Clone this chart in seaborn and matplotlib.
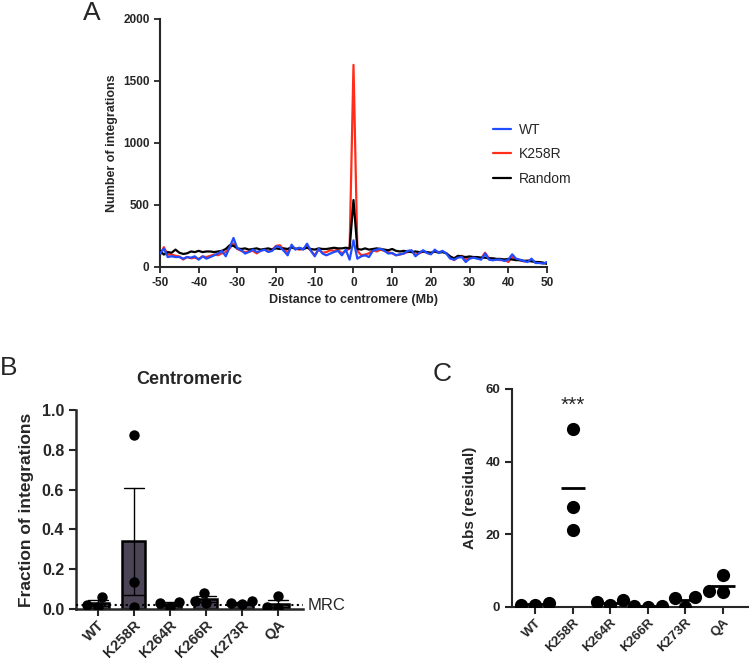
import numpy as np
import pandas as pd
import matplotlib
matplotlib.use("Agg")
import matplotlib.pyplot as plt
import seaborn as sns

sns.set_style("ticks")
plt.rcParams['font.family'] = ['Liberation Sans', 'DejaVu Sans']
plt.rcParams['axes.unicode_minus'] = False

# ---- Panel A: integrations vs distance to centromere (1 Mb bins) ----
distance = np.arange(-50, 51)

wt = [108, 148, 80, 86, 80, 80, 67, 80, 75, 86,
      59, 86, 67, 80, 94, 108, 130, 86, 160, 234,
      148, 135, 108, 121, 140, 121, 130, 140, 121, 130,
      167, 160, 130, 94, 180, 140, 156, 140, 188, 130,
      86, 148, 108, 94, 108, 121, 130, 94, 140, 59,
      215,
      67, 86, 94, 80, 130, 140, 148, 130, 108, 113,
      94, 102, 108, 130, 135, 86, 113, 135, 113, 102,
      140, 113, 130, 108, 67, 59, 75, 80, 40, 67,
      75, 67, 59, 108, 59, 54, 59, 59, 48, 59,
      102, 67, 59, 48, 40, 67, 32, 32, 27, 40]

k258r = [95, 160, 100, 100, 90, 85, 60, 80, 70, 75,
         65, 85, 80, 90, 100, 95, 110, 120, 150, 190,
         145, 130, 120, 125, 130, 110, 130, 140, 125, 140,
         170, 175, 140, 120, 160, 150, 140, 145, 165, 130,
         95, 140, 115, 120, 135, 130, 140, 110, 130, 150,
         1630,
         130, 95, 100, 110, 135, 125, 140, 130, 120, 110,
         95, 100, 110, 120, 125, 100, 110, 125, 115, 105,
         130, 120, 125, 110, 80, 55, 80, 90, 60, 70,
         80, 75, 70, 115, 70, 65, 60, 55, 60, 40,
         80, 60, 55, 45, 50, 55, 40, 35, 30, 30]

random_ctrl = [130, 100, 120, 115, 140, 115, 105, 110, 125, 120,
               130, 120, 125, 125, 120, 125, 130, 145, 175, 170,
               150, 145, 150, 140, 145, 150, 140, 145, 150, 140,
               150, 145, 150, 145, 160, 145, 150, 145, 155, 145,
               140, 150, 145, 145, 150, 155, 150, 150, 155, 150,
               540,
               145, 140, 150, 140, 145, 150, 145, 140, 135, 145,
               130, 125, 130, 125, 120, 125, 120, 125, 120, 115,
               125, 115, 120, 110, 85, 70, 90, 85, 80, 85,
               80, 80, 75, 75, 70, 70, 65, 65, 60, 65,
               60, 55, 55, 50, 50, 45, 40, 40, 35, 25]

# ---- Panels B and C: per-mutant replicates ----
mutants = ['WT', 'K258R', 'K264R', 'K266R', 'K273R', 'QA']

frac_wt = [0.060, 0.012, 0.020]
frac_k258r = [0.873, 0.135, 0.012]
frac_k264r = [0.010, 0.035, 0.030]
frac_k266r = [0.082, 0.040, 0.030]
frac_k273r = [0.025, 0.030, 0.038]
frac_qa = [0.065, 0.005, 0.012]
mrc_level = 0.02

res_wt = [0.5, 1.2, 0.5]
res_k258r = [49.0, 27.6, 21.3]
res_k264r = [0.6, 1.8, 1.3]
res_k266r = [0.0, 0.4, 0.4]
res_k273r = [0.1, 2.7, 2.6]
res_qa = [8.7, 4.3, 4.2]

frac_df = pd.DataFrame({
    'mutant': np.repeat(mutants, 3),
    'fraction': frac_wt + frac_k258r + frac_k264r + frac_k266r + frac_k273r + frac_qa,
})
res_df = pd.DataFrame({
    'mutant': np.repeat(mutants, 3),
    'residual': res_wt + res_k258r + res_k264r + res_k266r + res_k273r + res_qa,
})

fig = plt.figure(figsize=(7.49, 6.61), dpi=100)
axA = fig.add_axes([0.2136, 0.5961, 0.5167, 0.3752])
axB = fig.add_axes([0.1015, 0.0787, 0.303, 0.301])
axC = fig.add_axes([0.6836, 0.0817, 0.315, 0.33])


def rotate_xlabels(ax):
    for lab in ax.get_xticklabels():
        lab.set_fontweight('bold')
        lab.set_rotation(45)
        lab.set_ha('right')
        lab.set_rotation_mode('anchor')


# Panel A
sns.lineplot(x=distance, y=k258r, ax=axA, color='#ff2d1a', lw=1.6, label='K258R', zorder=2)
sns.lineplot(x=distance, y=random_ctrl, ax=axA, color='black', lw=1.6, label='Random', zorder=3)
sns.lineplot(x=distance, y=wt, ax=axA, color='#1f4dff', lw=1.6, label='WT', zorder=4)
axA.set_xlim(-50, 50)
axA.set_ylim(0, 2000)
axA.set_xticks(range(-50, 51, 10))
axA.set_yticks([0, 500, 1000, 1500, 2000])
axA.set_xlabel('Distance to centromere (Mb)', fontsize=9, fontweight='bold', labelpad=3)
axA.set_ylabel('Number of integrations', fontsize=9, fontweight='bold', labelpad=4)
for lab in axA.get_xticklabels() + axA.get_yticklabels():
    lab.set_fontweight('bold')
axA.tick_params(labelsize=8.5, width=1.3, length=4)
sns.despine(ax=axA)
for s in ['left', 'bottom']:
    axA.spines[s].set_linewidth(1.5)
handles, labels = axA.get_legend_handles_labels()
order = [labels.index(n) for n in ['WT', 'K258R', 'Random']]
axA.legend([handles[i] for i in order], [labels[i] for i in order],
           loc='center left', bbox_to_anchor=(0.86, 0.455), frameon=False,
           fontsize=10, handlelength=1.3, handletextpad=0.6, labelspacing=0.75,
           borderaxespad=0, borderpad=0)

# Panel B
sns.barplot(data=frac_df, x='mutant', y='fraction', ax=axB, order=mutants,
            color='#4a4159', edgecolor='black', linewidth=1.8, width=0.64,
            errorbar='se', err_kws={'color': 'black', 'linewidth': 1.0}, capsize=0.55)
sns.swarmplot(data=frac_df, x='mutant', y='fraction', ax=axB, order=mutants,
              color='black', size=7.5, zorder=5)
axB.axhline(mrc_level, color='black', ls=':', lw=1.5, zorder=6, clip_on=False)
axB.text(5.82, mrc_level, 'MRC', fontsize=12, va='center', ha='left')
axB.set_xlim(-0.6, 5.7)
axB.set_ylim(0, 1.0)
axB.set_yticks([0, 0.2, 0.4, 0.6, 0.8, 1.0])
axB.set_yticklabels(['0.0', '0.2', '0.4', '0.6', '0.8', '1.0'])
axB.set_xlabel('')
axB.set_ylabel('Fraction of integrations', fontsize=12.5, fontweight='bold', labelpad=6)
axB.set_title('Centromeric', fontsize=13, fontweight='bold', pad=19)
axB.tick_params(axis='y', labelsize=11.5, width=1.5, length=5)
axB.tick_params(axis='x', labelsize=10.5, width=1.5, length=5, pad=1.5)
for lab in axB.get_yticklabels():
    lab.set_fontweight('bold')
rotate_xlabels(axB)
sns.despine(ax=axB)
for s in ['left', 'bottom']:
    axB.spines[s].set_linewidth(1.8)

# Panel C
sns.swarmplot(data=res_df, x='mutant', y='residual', ax=axC, order=mutants,
              color='black', size=9.5, zorder=3)
sns.pointplot(data=res_df, x='mutant', y='residual', ax=axC, order=mutants,
              errorbar=None, color='black', marker='_', markersize=17,
              markeredgewidth=2, linestyle='none', zorder=4)
axC.text(1, 55.5, '***', fontsize=15, ha='center', va='center')
axC.set_xlim(-0.61, 5.66)
axC.set_ylim(0, 60)
axC.set_yticks([0, 20, 40, 60])
axC.set_xlabel('')
axC.set_ylabel('Abs (residual)', fontsize=11, fontweight='bold', labelpad=6)
axC.tick_params(axis='y', labelsize=9.5, width=1.5, length=5)
axC.tick_params(axis='x', labelsize=9.5, width=1.5, length=5, pad=2)
for lab in axC.get_yticklabels():
    lab.set_fontweight('bold')
rotate_xlabels(axC)
sns.despine(ax=axC)
for s in ['left', 'bottom']:
    axC.spines[s].set_linewidth(1.5)

# Panel letters
fig.text(0.111, 0.998, 'A', fontsize=19, va='top', ha='left')
fig.text(0.0, 0.462, 'B', fontsize=19, va='top', ha='left')
fig.text(0.578, 0.453, 'C', fontsize=19, va='top', ha='left')

fig.savefig('out.png', dpi=100)
